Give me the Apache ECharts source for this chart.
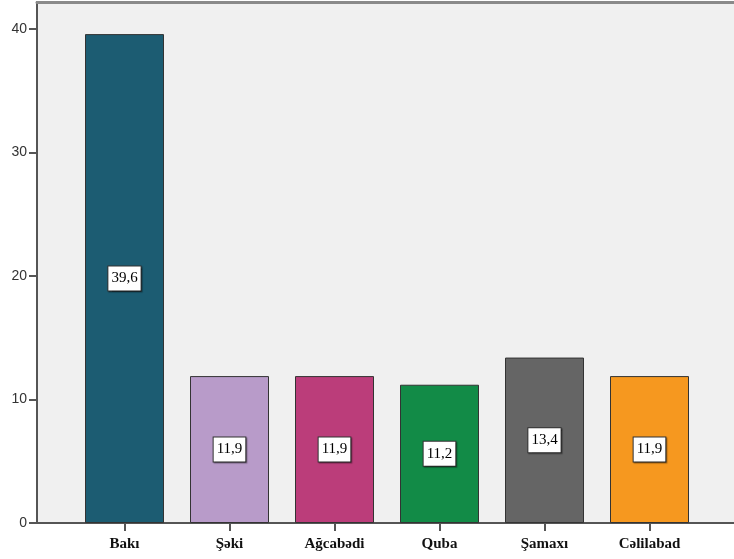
<!DOCTYPE html>
<html>
<head>
<meta charset="utf-8">
<script src="https://cdn.jsdelivr.net/npm/echarts@6/dist/echarts.min.js"></script>
<style>
html,body{margin:0;padding:0;background:#ffffff;}
#chart{width:734px;height:559px;}
</style>
</head>
<body>
<div id="chart"></div>
<script>
const categories = ['Bakı', 'Şəki', 'Ağcabədi', 'Quba', 'Şamaxı', 'Cəlilabad'];
const values = [39.6, 11.9, 11.9, 11.2, 13.4, 11.9];
const barColors = ['#1c5c72', '#b89bc9', '#bb3d7a', '#128b47', '#656565', '#f6981f'];
const yTicks = [0, 10, 20, 30, 40];
const yMax = 42.2;

const chart = echarts.init(document.getElementById('chart'));
chart.setOption({
  animation: false,
  backgroundColor: '#ffffff',
  grid: [
    { left: 37, top: 2, right: 0, bottom: 36, show: true, backgroundColor: '#f0f0f0', borderWidth: 0 },
    { left: 72, top: 2, width: 630, bottom: 36 }
  ],
  xAxis: [
    { gridIndex: 0, type: 'value', min: 0, max: 1, axisLine: { show: true, onZero: false, lineStyle: { color: '#555555', width: 2 } },
      axisTick: { show: false }, axisLabel: { show: false }, splitLine: { show: false } },
    { gridIndex: 1, type: 'category', data: categories,
      axisLine: { show: false },
      axisTick: { show: true, alignWithLabel: true, length: 8, lineStyle: { color: '#555555', width: 2 } },
      axisLabel: { margin: 14, color: '#111111', fontFamily: 'Liberation Serif', fontWeight: 'bold', fontSize: 15 } },
    { gridIndex: 0, type: 'value', position: 'top', min: 0, max: 1,
      axisLine: { show: true, onZero: false, lineStyle: { color: '#8a8a8a', width: 3 } },
      axisTick: { show: false }, axisLabel: { show: false }, splitLine: { show: false } }
  ],
  yAxis: [
    { gridIndex: 0, type: 'value', min: 0, max: yMax,
      axisLine: { show: true, lineStyle: { color: '#555555', width: 2 } },
      axisTick: { show: true, length: 8, customValues: yTicks, lineStyle: { color: '#555555', width: 2 } },
      axisLabel: { customValues: yTicks, margin: 10, color: '#333333', fontFamily: 'Liberation Sans', fontSize: 14 },
      splitLine: { show: false } },
    { gridIndex: 1, type: 'value', min: 0, max: yMax, show: false }
  ],
  series: [{
    type: 'bar',
    xAxisIndex: 1,
    yAxisIndex: 1,
    barWidth: 79,
    data: values.map((v, i) => ({ value: v, itemStyle: { color: barColors[i] } })),
    itemStyle: { borderColor: '#333333', borderWidth: 1 },
    label: {
      show: true,
      position: 'inside',
      formatter: p => String(p.value).replace('.', ','),
      backgroundColor: '#ffffff',
      borderColor: '#333333',
      borderWidth: 1,
      padding: [5, 3, 4, 3],
      color: '#000000',
      fontFamily: 'Liberation Serif',
      fontSize: 15,
      shadowColor: 'rgba(0,0,0,0.35)',
      shadowOffsetX: 1,
      shadowOffsetY: 1,
      shadowBlur: 1
    }
  }]
});
</script>
</body>
</html>
